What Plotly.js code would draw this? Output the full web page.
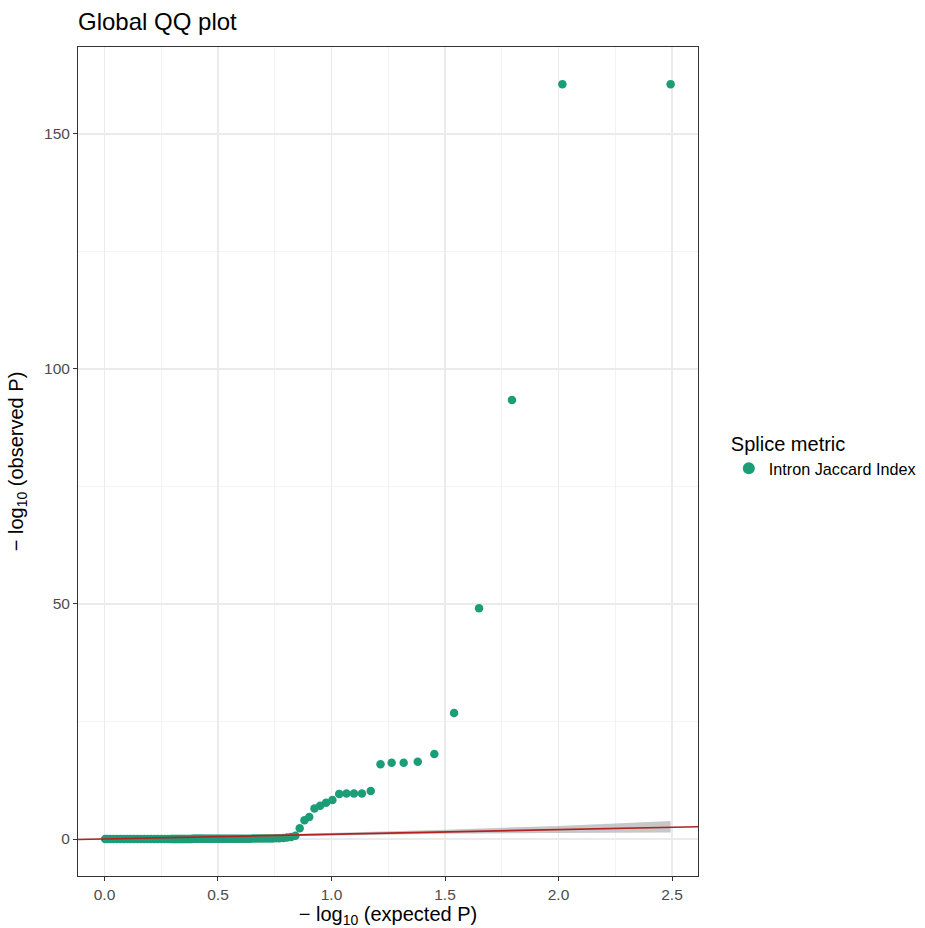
<!DOCTYPE html>
<html>
<head>
<meta charset="utf-8">
<script src="https://cdn.plot.ly/plotly-3.0.1.min.js"></script>
<style>html,body{margin:0;padding:0;background:#fff;}#plot{width:925px;height:928px;}</style>
</head>
<body>
<div id="plot"></div>
<script>
// Expected -log10(P) (x) and observed -log10(P) (y)
const expectedP = [
  2.494, 2.017, 1.795, 1.650, 1.540, 1.453, 1.380, 1.318, 1.265, 1.216, 1.173,
  1.134, 1.099, 1.066, 1.034, 1.004, 0.976, 0.950, 0.925, 0.902, 0.881, 0.860,
  0.841, 0.822, 0.804, 0.787, 0.770, 0.754, 0.738, 0.723, 0.709, 0.695, 0.681,
  0.668, 0.655, 0.643, 0.631, 0.619, 0.608, 0.597, 0.586, 0.575, 0.565, 0.555,
  0.545, 0.535, 0.526, 0.516, 0.507, 0.499, 0.490, 0.481, 0.473, 0.465, 0.457,
  0.449, 0.441, 0.433, 0.426, 0.419, 0.411, 0.404, 0.397, 0.390, 0.384, 0.377,
  0.370, 0.364, 0.357, 0.351, 0.345, 0.339, 0.333, 0.327, 0.321, 0.315, 0.309,
  0.304, 0.298, 0.293, 0.280, 0.265, 0.250, 0.235, 0.220, 0.205, 0.190, 0.175,
  0.160, 0.145, 0.130, 0.115, 0.100, 0.085, 0.070, 0.055, 0.040, 0.025, 0.012,
  0.003
];
const observedP = [
  160.6, 160.6, 93.4, 49.1, 26.8, 18.1, 16.45, 16.2, 16.2, 15.9, 10.2,
  9.7, 9.7, 9.7, 9.6, 8.3, 7.7, 7.1, 6.5, 4.7, 4.0, 2.3,
  0.7, 0.45, 0.3, 0.22, 0.18, 0.15, 0.13, 0.12, 0.11, 0.10, 0.10,
  0.09, 0.09, 0.08, 0.08, 0.08, 0.07, 0.07, 0.07, 0.06, 0.06, 0.06,
  0.06, 0.05, 0.05, 0.05, 0.05, 0.05, 0.04, 0.04, 0.04, 0.04, 0.04,
  0.04, 0.03, 0.03, 0.03, 0.03, 0.03, 0.03, 0.03, 0.03, 0.02, 0.02,
  0.02, 0.02, 0.02, 0.02, 0.02, 0.02, 0.02, 0.02, 0.02, 0.01, 0.01,
  0.01, 0.01, 0.01, 0.01, 0.01, 0.01, 0.01, 0.01, 0.01, 0.01, 0.01,
  0.00, 0.00, 0.00, 0.00, 0.00, 0.00, 0.00, 0.00, 0.00, 0.00, 0.00,
  0.00
];
// Confidence band around the null expectation
const bandX     = [0.003, 0.30, 0.50, 0.80, 1.00, 1.50, 2.00, 2.494];
const bandLower = [0.00,  0.24, 0.41, 0.67, 0.82, 1.12, 1.30, 1.40];
const bandUpper = [0.01,  0.38, 0.60, 1.00, 1.24, 1.97, 2.79, 3.85];
// Identity line extent
const identityX = [-0.12, 2.62];

const seriesName = 'Intron Jaccard Index';
const legendTitle = 'Splice metric';
const chartTitle = 'Global QQ plot';
const xTickVals = [0, 0.5, 1, 1.5, 2, 2.5];
const xTickText = ['0.0', '0.5', '1.0', '1.5', '2.0', '2.5'];
const yTickVals = [0, 50, 100, 150];
const yTickText = ['0', '50', '100', '150'];

const FONT = 'Liberation Sans, Arial, Helvetica, sans-serif';

const traces = [
  {
    x: expectedP, y: observedP, type: 'scatter', mode: 'markers',
    name: seriesName,
    marker: {color: '#1b9e77', size: 8.5},
    showlegend: true, cliponaxis: true
  },
  {
    x: bandX, y: bandLower, type: 'scatter', mode: 'lines',
    line: {width: 0, color: 'rgba(0,0,0,0)'}, showlegend: false, hoverinfo: 'skip'
  },
  {
    x: bandX, y: bandUpper, type: 'scatter', mode: 'lines',
    fill: 'tonexty', fillcolor: 'rgba(153,153,153,0.55)',
    line: {width: 0, color: 'rgba(0,0,0,0)'}, showlegend: false, hoverinfo: 'skip'
  },
  {
    x: identityX, y: identityX, type: 'scatter', mode: 'lines',
    line: {color: '#b22222', width: 1.6}, showlegend: false, hoverinfo: 'skip'
  }
];

const gridColor = '#ebebeb';
const layout = {
  width: 925, height: 928,
  paper_bgcolor: '#ffffff', plot_bgcolor: '#ffffff',
  font: {family: FONT, color: '#000000'},
  margin: {l: 78, r: 227, t: 47, b: 52, pad: 0, autoexpand: false},
  title: {
    text: chartTitle, font: {size: 24, color: '#000000', family: FONT},
    x: 0, xanchor: 'left', xref: 'paper', y: 1 - 22 / 928, yanchor: 'middle', yref: 'container'
  },
  xaxis: {
    range: [-0.1167, 2.6145], tickvals: xTickVals, ticktext: xTickText,
    ticks: 'outside', ticklen: 4, tickcolor: '#333333', tickwidth: 1,
    tickfont: {size: 15.5, color: '#4d4d4d', family: FONT},
    showgrid: true, gridcolor: gridColor, gridwidth: 1.1,
    minor: {tickvals: [0.25, 0.75, 1.25, 1.75, 2.25], showgrid: true, gridcolor: gridColor, gridwidth: 0.6, ticks: ''},
    zeroline: false, showline: true, linecolor: '#333333', linewidth: 1, mirror: true,
    automargin: false,
    title: {text: '\u2212 log<sub>10</sub> (expected P)', font: {size: 20, color: '#000000', family: FONT}, standoff: 4}
  },
  yaxis: {
    range: [-7.87, 168.5], tickvals: yTickVals, ticktext: yTickText,
    ticks: 'outside', ticklen: 4, tickcolor: '#333333', tickwidth: 1,
    tickfont: {size: 15.5, color: '#4d4d4d', family: FONT},
    showgrid: true, gridcolor: gridColor, gridwidth: 1.1,
    minor: {tickvals: [25, 75, 125], showgrid: true, gridcolor: gridColor, gridwidth: 0.6, ticks: ''},
    zeroline: false, showline: true, linecolor: '#333333', linewidth: 1, mirror: true,
    automargin: false,
    title: {text: '\u2212 log<sub>10</sub> (observed P)', font: {size: 20, color: '#000000', family: FONT}, standoff: 15}
  },
  legend: {
    x: 1.0497, xanchor: 'left', y: 0.507, yanchor: 'middle',
    bgcolor: 'rgba(0,0,0,0)', borderwidth: 0,
    title: {text: legendTitle, font: {size: 20, color: '#000000', family: FONT}, side: 'top'},
    font: {size: 16.2, color: '#000000', family: FONT},
    itemsizing: 'constant', tracegroupgap: 4
  },
  showlegend: true
};

Plotly.newPlot('plot', traces, layout, {displayModeBar: false, staticPlot: true});
</script>
</body>
</html>
